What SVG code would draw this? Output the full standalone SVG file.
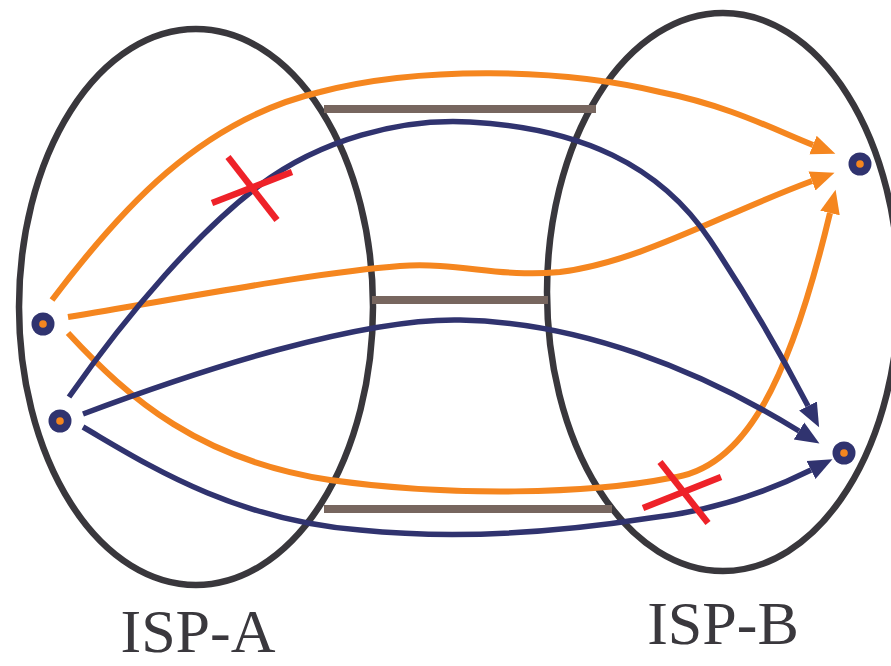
<svg xmlns="http://www.w3.org/2000/svg" width="891" height="666" viewBox="0 0 891 666">
  <style>
    .isp { fill: none; stroke: #39373c; stroke-width: 6.5; }
    .link { stroke: #77665f; stroke-width: 8; }
    .route { fill: none; stroke-width: 6; stroke-linecap: butt; }
    .orange { stroke: #f5861f; marker-end: url(#arrow-orange); }
    .navy { stroke: #30336f; stroke-width: 5.5; marker-end: url(#arrow-navy); }
    .cut { stroke: #ee2229; stroke-width: 6.5; }
    .host-ring { fill: #30336f; }
    .host-core { fill: #f5861f; }
    .label { font-family: "Liberation Serif", "Times New Roman", serif; font-size: 62px; fill: #3a383d; text-anchor: middle; }
  </style>
  <defs>
    <marker id="arrow-orange" markerUnits="userSpaceOnUse" viewBox="0 -11 25 22" markerWidth="25" markerHeight="22" refX="0" refY="0" orient="auto">
      <path d="M0,-10 L24,0 L0,10 z" fill="#f5861f"/>
    </marker>
    <marker id="arrow-navy" markerUnits="userSpaceOnUse" viewBox="0 -11 25 22" markerWidth="25" markerHeight="22" refX="0" refY="0" orient="auto">
      <path d="M0,-10 L24,0 L0,10 z" fill="#30336f"/>
    </marker>
  </defs>

  <!-- provider domains -->
  <g id="isp-a">
    <ellipse class="isp" cx="196" cy="307" rx="177" ry="278"/>
    <text class="label" x="198" y="652">ISP-A</text>
  </g>
  <g id="isp-b">
    <ellipse class="isp" cx="723" cy="292" rx="176" ry="279"/>
    <text class="label" x="723" y="644">ISP-B</text>
  </g>

  <!-- inter-domain peering links -->
  <g id="peering-links">
    <line class="link" x1="324" y1="109" x2="596" y2="109"/>
    <line class="link" x1="372" y1="300" x2="548" y2="300"/>
    <line class="link" x1="324" y1="509" x2="612" y2="509"/>
  </g>

  <!-- routes between hosts -->
  <g id="connectors">
    <path class="route orange" d="M52,300 C120,210 200,120 320,92 C420,66 560,68 660,92 C730,106 775,130 813,145"/>
    <path class="route orange" d="M68,317 C200,295 320,272 400,266 C460,262 500,278 560,272 C640,262 720,215 812,181"/>
    <path class="route orange" d="M68,333 C130,400 200,460 330,480 C450,497 590,494 670,478 C745,470 790,380 830,213"/>
    <path class="route navy" d="M69,397 C130,310 200,230 260,185 C320,140 400,118 470,122 C580,128 660,165 710,240 C750,300 783,358 808,406"/>
    <path class="route navy" d="M83,414 C200,370 360,318 460,320 C580,322 700,370 799,431"/>
    <path class="route navy" d="M83,427 C140,460 230,520 360,530 C460,540 560,532 650,518 C720,510 775,488 811,470"/>
  </g>

  <!-- failed routes -->
  <g id="failure-1">
    <line class="cut" x1="212" y1="203" x2="292" y2="172"/>
    <line class="cut" x1="228" y1="157" x2="277" y2="220"/>
  </g>
  <g id="failure-2">
    <line class="cut" x1="643" y1="508" x2="721" y2="477"/>
    <line class="cut" x1="660" y1="462" x2="708" y2="523"/>
  </g>

  <!-- hosts -->
  <g id="host-a1">
    <circle class="host-ring" cx="43" cy="324" r="11.5"/>
    <circle class="host-core" cx="43" cy="324" r="3.8"/>
  </g>
  <g id="host-a2">
    <circle class="host-ring" cx="60" cy="421" r="11.5"/>
    <circle class="host-core" cx="60" cy="421" r="3.8"/>
  </g>
  <g id="host-b1">
    <circle class="host-ring" cx="860" cy="164" r="11.5"/>
    <circle class="host-core" cx="860" cy="164" r="3.8"/>
  </g>
  <g id="host-b2">
    <circle class="host-ring" cx="844" cy="453" r="11.5"/>
    <circle class="host-core" cx="844" cy="453" r="3.8"/>
  </g>
</svg>
